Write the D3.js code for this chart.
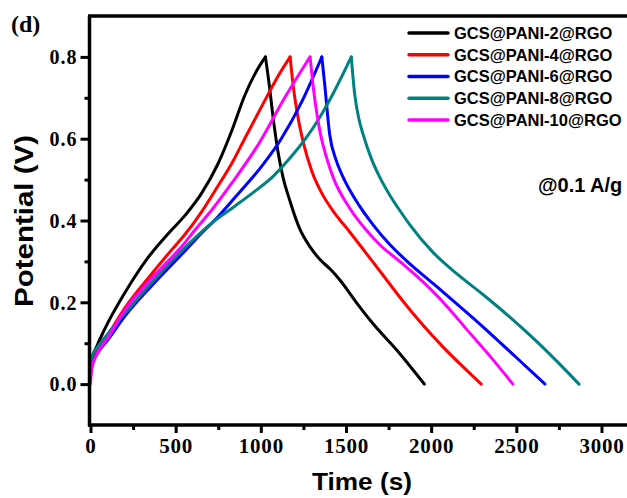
<!DOCTYPE html>
<html><head><meta charset="utf-8">
<script src="https://cdn.jsdelivr.net/npm/d3@7/dist/d3.min.js"></script>
<style>body{margin:0;background:#fff}svg{display:block}</style>
</head><body>
<svg id="c" width="627" height="498"></svg>
<script>
// ---- data ----
const seriesNames = ["GCS@PANI-2@RGO","GCS@PANI-4@RGO","GCS@PANI-6@RGO","GCS@PANI-8@RGO","GCS@PANI-10@RGO"];
const seriesColors = ["#000000","#ff0000","#0000ff","#008080","#ff00ff"];
const xTicks = [0,500,1000,1500,2000,2500,3000];
const yTicks = [0.0,0.2,0.4,0.6,0.8];
// [time (s), potential (V)]
const pani2 = [[0,0.03],[10,0.06],[40,0.095],[84,0.135],[200,0.222],[330,0.305],[450,0.365],[560,0.415],[650,0.465],[750,0.54],[830,0.62],[905,0.705],[970,0.762],[1027,0.8],
  [1050,0.73],[1072,0.652],[1100,0.57],[1130,0.506],[1170,0.449],[1228,0.38],[1290,0.335],[1346,0.305],[1410,0.28],[1463,0.255],[1560,0.2],[1658,0.148],[1815,0.075],[1960,0]];
const pani4 = [[0,0.015],[8,0.045],[40,0.08],[100,0.118],[200,0.185],[350,0.265],[480,0.33],[553,0.365],[650,0.42],[749,0.485],[830,0.54],[905,0.6],[1023,0.693],[1100,0.752],[1172,0.8],
  [1189,0.733],[1215,0.66],[1250,0.59],[1300,0.52],[1360,0.465],[1430,0.42],[1522,0.372],[1620,0.319],[1720,0.265],[1815,0.213],[1950,0.145],[2069,0.091],[2180,0.045],[2294,0]];
const pani6 = [[0,0.025],[10,0.05],[40,0.075],[100,0.107],[200,0.165],[358,0.24],[553,0.325],[631,0.36],[750,0.41],[866,0.465],[1000,0.53],[1120,0.6],[1240,0.69],[1358,0.8],
  [1375,0.733],[1404,0.611],[1440,0.55],[1483,0.506],[1580,0.435],[1658,0.39],[1760,0.34],[1854,0.302],[2011,0.246],[2304,0.14],[2500,0.065],[2668,0]];
const pani8 = [[0,0.05],[10,0.07],[40,0.09],[100,0.122],[200,0.172],[358,0.248],[553,0.333],[700,0.39],[847,0.435],[960,0.47],[1072,0.508],[1170,0.552],[1268,0.603],[1350,0.655],[1424,0.71],[1531,0.8],
  [1551,0.709],[1575,0.65],[1600,0.611],[1650,0.55],[1698,0.506],[1760,0.46],[1815,0.425],[1874,0.39],[2011,0.322],[2150,0.27],[2304,0.219],[2450,0.168],[2597,0.113],[2740,0.055],[2868,0]];
const pani10 = [[0,0.0],[6,0.035],[40,0.075],[100,0.112],[200,0.18],[358,0.258],[553,0.345],[612,0.376],[720,0.43],[827,0.49],[984,0.585],[1140,0.70],[1289,0.8],
  [1306,0.733],[1346,0.62],[1385,0.555],[1424,0.506],[1522,0.43],[1620,0.376],[1700,0.34],[1815,0.30],[1920,0.262],[2011,0.226],[2110,0.182],[2206,0.135],[2350,0.066],[2480,0]];
const seriesData = [pani2,pani4,pani6,pani8,pani10];

// ---- drawing ----
const svg = d3.select("#c");
const x = d3.scaleLinear().domain([0,3200]).range([90.5, 90.5+3200*0.17033]);
const y = d3.scaleLinear().domain([-0.1,0.9]).range([425,16]);
const serif = "'Liberation Serif','Times New Roman',serif";
const sans = "'Liberation Sans',Arial,sans-serif";

const plot = svg.append("g");
const line = d3.line().x(d=>x(d[0])).y(d=>y(d[1])).curve(d3.curveMonotoneX);
seriesData.forEach((data,i)=>{
  const pk = d3.maxIndex(data,d=>d[1]);
  [data.slice(0,pk+1), data.slice(pk)].forEach(seg=>{
    plot.append("path").attr("d",line(seg)).attr("fill","none")
      .attr("stroke",seriesColors[i]).attr("stroke-width",3).attr("stroke-linejoin","round").attr("stroke-linecap","round");
  });
});

// axes
const xMinor = d3.range(250,3200,500);
const yMinor = [0.1,0.3,0.5,0.7];
const gx = svg.append("g").attr("transform","translate(0,425)");
gx.call(d3.axisBottom(x).tickValues(xTicks).tickSize(8).tickSizeOuter(0).tickFormat(d3.format("d")));
const gxm = svg.append("g").attr("transform","translate(0,425)");
gxm.call(d3.axisBottom(x).tickValues(xMinor).tickSize(5).tickSizeOuter(0).tickFormat(""));
gxm.select(".domain").remove();
const gy = svg.append("g").attr("transform","translate(89.5,0)");
gy.call(d3.axisLeft(y).tickValues(yTicks).tickSize(9).tickSizeOuter(0).tickFormat(d3.format(".1f")));
const gym = svg.append("g").attr("transform","translate(89.5,0)");
gym.call(d3.axisLeft(y).tickValues(yMinor).tickSize(5).tickSizeOuter(0).tickFormat(""));
gym.select(".domain").remove();
svg.selectAll(".domain").attr("stroke","#000").attr("stroke-width",3.5);
svg.selectAll(".tick line").attr("stroke","#000").attr("stroke-width",3);
gx.select(".domain").attr("d","M88,0H627");
gy.select(".domain").attr("d","M0,16V426.5");
gx.selectAll(".tick text").attr("y",13).attr("dy","0.71em")
  .style("font-family",serif).style("font-weight","bold").style("font-size","21px").attr("fill","#000").attr("letter-spacing","0.8px");
gy.selectAll(".tick text").attr("x",-12).attr("dy","0.34em")
  .style("font-family",serif).style("font-weight","bold").style("font-size","20px").attr("fill","#000").attr("letter-spacing","1px");
// top frame line
svg.append("line").attr("x1",88).attr("x2",627).attr("y1",y(0.9)).attr("y2",y(0.9)).attr("stroke","#000").attr("stroke-width",3.5);

// axis titles
svg.append("text").attr("x",362).attr("y",490).attr("text-anchor","middle")
  .attr("textLength",100).attr("lengthAdjust","spacingAndGlyphs")
  .style("font-family",sans).style("font-weight","bold").style("font-size","24px").text("Time (s)");
svg.append("text").attr("transform","translate(33,221) rotate(-90)").attr("text-anchor","middle")
  .attr("textLength",172).attr("lengthAdjust","spacingAndGlyphs")
  .style("font-family",sans).style("font-weight","bold").style("font-size","25px").text("Potential (V)");
svg.append("text").attr("x",11).attr("y",32)
  .style("font-family",serif).style("font-weight","bold").style("font-size","24px").text("(d)");
svg.append("text").attr("x",538).attr("y",192)
  .style("font-family",sans).style("font-weight","bold").style("font-size","20px").text("@0.1 A/g");

// legend
const lg = svg.append("g");
seriesNames.forEach((n,i)=>{
  const yy = 33 + i*21.75;
  lg.append("line").attr("x1",409).attr("x2",448).attr("y1",yy).attr("y2",yy)
    .attr("stroke",seriesColors[i]).attr("stroke-width",3.5).attr("stroke-linecap","round");
  lg.append("text").attr("x",454).attr("y",yy).attr("dy","0.36em")
    .style("font-family",sans).style("font-weight","bold").style("font-size","16.5px").text(n);
});
</script>
</body></html>
